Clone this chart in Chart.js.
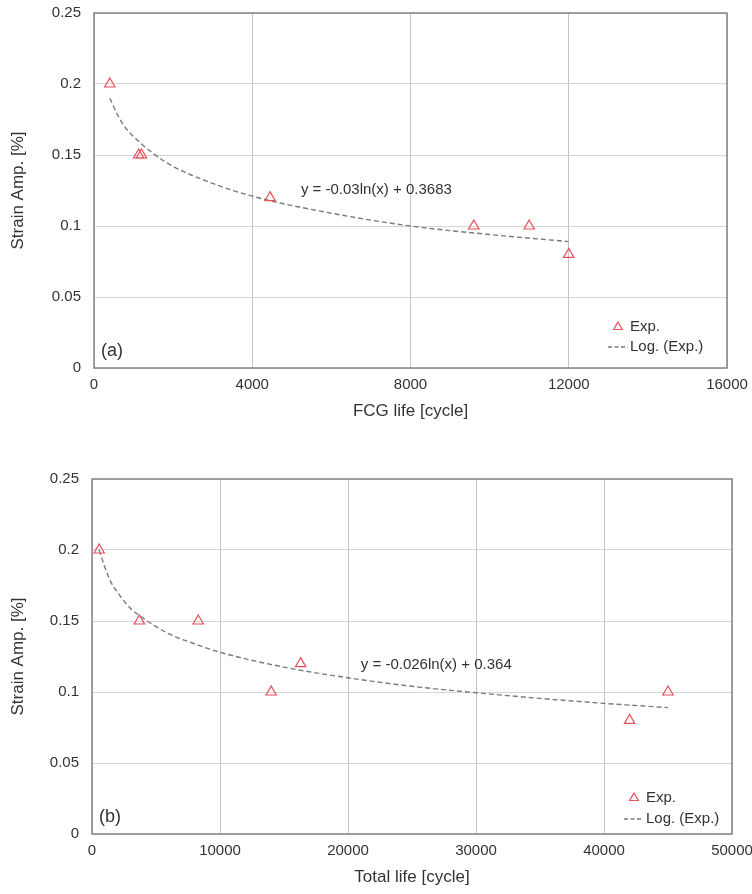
<!DOCTYPE html>
<html>
<head>
<meta charset="utf-8">
<script src="https://cdn.jsdelivr.net/npm/chart.js@4/dist/chart.umd.min.js"></script>
<style>
  html, body { margin: 0; padding: 0; background: #fff; overflow: hidden; }
  body { width: 752px; height: 894px; position: relative; }
  .box { position: absolute; left: 0; width: 752px; }
  #boxA { top: 0; height: 430px; }
  #boxB { top: 440px; height: 454px; }
</style>
</head>
<body>
<div class="box" id="boxA"><canvas id="chartA"></canvas></div>
<div class="box" id="boxB"><canvas id="chartB"></canvas></div>
<script>
// ---------- Data ----------
// (a) FCG life
const fcgLife   = [400, 1130, 1200, 4450, 9600, 11000, 12000];
const fcgStrain = [0.20, 0.15, 0.15, 0.12, 0.10, 0.10, 0.08];
// (a) trend line
const fcgTrendX = [400, 600, 800, 1000, 1500, 2000, 3000, 4000, 6000, 8000, 10000, 12000];
const fcgTrendY = [0.190, 0.178, 0.169, 0.163, 0.151, 0.142, 0.130, 0.121, 0.109, 0.100, 0.094, 0.089];
const fcgEquation = 'y = -0.03ln(x) + 0.3683';

// (b) Total life
const totLife   = [560, 3700, 8300, 14000, 16300, 42000, 45000];
const totStrain = [0.20, 0.15, 0.15, 0.10, 0.12, 0.08, 0.10];
// (b) trend line
const totTrendX = [560, 1000, 1500, 2000, 3000, 4000, 6000, 8000, 10000, 15000, 20000, 25000, 30000, 35000, 40000, 45000];
const totTrendY = [0.200, 0.188, 0.177, 0.170, 0.159, 0.152, 0.141, 0.134, 0.128, 0.1175, 0.110, 0.104, 0.0995, 0.0955, 0.092, 0.089];
const totEquation = 'y = -0.026ln(x) + 0.364';

// Tick labels
const yTickValues = [0, 0.05, 0.1, 0.15, 0.2, 0.25];
const yTickLabels = ['0', '0.05', '0.1', '0.15', '0.2', '0.25'];
const xTicksA = ['0', '4000', '8000', '12000', '16000'];
const xTicksB = ['0', '10000', '20000', '30000', '40000', '50000'];

const seriesName = 'Exp.';
const trendName = 'Log. (Exp.)';
const yTitle = 'Strain Amp. [%]';
const xTitleA = 'FCG life [cycle]';
const xTitleB = 'Total life [cycle]';

// ---------- Styling ----------
const FONT = "'Liberation Sans', Arial, sans-serif";
const TEXT = '#333333';
const RED = '#e8505b';
const DASH = '#7a7a7a';

function toXY(xs, ys) { return xs.map((x, i) => ({ x: x, y: ys[i] })); }

const framePlugin = {
  id: 'frame',
  afterDatasetsDraw(chart, args, opts) {
    const { ctx, chartArea: a, scales } = chart;
    ctx.save();
    // plot frame
    ctx.strokeStyle = '#858585';
    ctx.lineWidth = 1.5;
    ctx.strokeRect(a.left, a.top, a.right - a.left, a.bottom - a.top);
    // equation text
    ctx.fillStyle = TEXT;
    ctx.font = '15px ' + FONT;
    ctx.textBaseline = 'middle';
    ctx.textAlign = 'left';
    ctx.fillText(opts.equation, scales.x.getPixelForValue(opts.eqX), scales.y.getPixelForValue(opts.eqY));
    // panel label
    ctx.font = '18px ' + FONT;
    ctx.fillText(opts.panel, a.left + opts.panelDx, a.bottom - 17);
    // legend
    const L = opts.legend;
    ctx.font = '15px ' + FONT;
    const tx = a.right + L.triX, ty = a.bottom + L.triY;
    const r = 5;
    ctx.strokeStyle = RED;
    ctx.lineWidth = 1.2;
    ctx.beginPath();
    ctx.moveTo(tx, ty - r);
    ctx.lineTo(tx + r * 0.866, ty + r * 0.5);
    ctx.lineTo(tx - r * 0.866, ty + r * 0.5);
    ctx.closePath();
    ctx.stroke();
    ctx.fillText(seriesName, a.right + L.textX, ty);
    const dy = a.bottom + L.lineY;
    ctx.strokeStyle = DASH;
    ctx.lineWidth = 1.3;
    ctx.setLineDash([4, 2.5]);
    ctx.beginPath();
    ctx.moveTo(a.right + L.lineX0, dy);
    ctx.lineTo(a.right + L.lineX1, dy);
    ctx.stroke();
    ctx.setLineDash([]);
    ctx.fillText(trendName, a.right + L.textX, dy);
    ctx.restore();
  }
};

function makeChart(canvasId, pts, trend, xMax, xStep, xLabels, xTitle, dims, plugOpts) {
  return new Chart(document.getElementById(canvasId), {
    type: 'scatter',
    data: {
      datasets: [
        {
          label: seriesName,
          data: pts,
          pointStyle: 'triangle',
          pointRadius: 6,
          pointBorderWidth: 1.2,
          pointBorderColor: RED,
          pointBackgroundColor: 'rgba(0,0,0,0)',
          showLine: false,
          order: 0
        },
        {
          label: trendName,
          data: trend,
          showLine: true,
          pointRadius: 0,
          borderColor: DASH,
          borderWidth: 1.4,
          borderDash: [5, 3],
          cubicInterpolationMode: 'monotone',
          fill: false,
          order: 1
        }
      ]
    },
    options: {
      responsive: true,
      maintainAspectRatio: false,
      animation: false,
      layout: { padding: { left: 0, right: dims.padRight, top: dims.padTop, bottom: 0 } },
      plugins: {
        legend: { display: false },
        tooltip: { enabled: false },
        frame: plugOpts
      },
      scales: {
        x: {
          type: 'linear',
          min: 0, max: xMax,
          afterBuildTicks: (s) => { s.ticks = xLabels.map((l, i) => ({ value: i * xStep })); },
          ticks: {
            callback: (v, i) => xLabels[i],
            color: TEXT, font: { family: FONT, size: 15 }, padding: 8, maxRotation: 0, autoSkip: false
          },
          grid: { color: '#c4c4c4', lineWidth: 1, drawTicks: false },
          border: { display: false },
          title: { display: true, text: xTitle, color: TEXT, font: { family: FONT, size: 17 }, padding: { top: 0, bottom: dims.xTitlePad } },
          afterFit: (s) => { s.height = dims.xAxisH; s.paddingLeft = 0; s.paddingRight = 0; }
        },
        y: {
          type: 'linear',
          min: 0, max: 0.25,
          afterBuildTicks: (s) => { s.ticks = yTickValues.map(v => ({ value: v })); },
          ticks: {
            callback: (v, i) => yTickLabels[i],
            color: TEXT, font: { family: FONT, size: 15 }, padding: 13
          },
          grid: { color: '#d6d6d6', lineWidth: 1, drawTicks: false },
          border: { display: false },
          title: { display: true, text: yTitle, color: TEXT, font: { family: FONT, size: 17 }, padding: { top: 8, bottom: 0 } },
          afterFit: (s) => { s.width = dims.yAxisW; s.paddingTop = 0; s.paddingBottom = 0; }
        }
      }
    },
    plugins: [framePlugin]
  });
}

makeChart('chartA', toXY(fcgLife, fcgStrain), toXY(fcgTrendX, fcgTrendY), 16000, 4000, xTicksA, xTitleA,
  { padRight: 25, padTop: 13, xAxisH: 62, yAxisW: 94, xTitlePad: 8 },
  { equation: fcgEquation, eqX: 5230, eqY: 0.1258, panel: '(a)', panelDx: 7,
    legend: { triX: -109, triY: -41, textX: -97, lineY: -21, lineX0: -119, lineX1: -99 } });

makeChart('chartB', toXY(totLife, totStrain), toXY(totTrendX, totTrendY), 50000, 10000, xTicksB, xTitleB,
  { padRight: 20, padTop: 39, xAxisH: 60, yAxisW: 92, xTitlePad: 6 },
  { equation: totEquation, eqX: 21000, eqY: 0.1188, panel: '(b)', panelDx: 7,
    legend: { triX: -98, triY: -36, textX: -86, lineY: -15, lineX0: -108, lineX1: -89 } });
</script>
</body>
</html>
